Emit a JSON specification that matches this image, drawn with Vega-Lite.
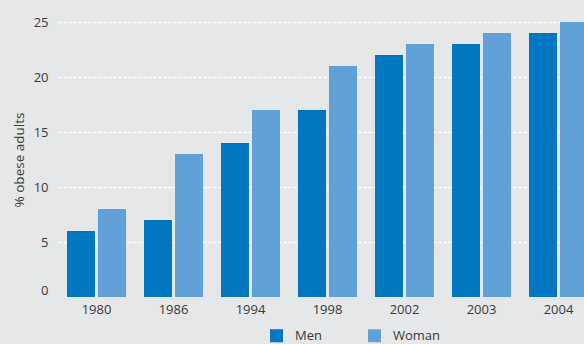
{
  "$schema": "https://vega.github.io/schema/vega-lite/v6.json",
  "autosize": {"type": "none"},
  "width": 526,
  "height": 275,
  "padding": {"left": 58, "top": 22, "right": 0, "bottom": 47},
  "background": "#e6e7e8",
  "config": {
    "view": {"stroke": null},
    "font": "Open Sans",
    "axis": {"labelFont": "Open Sans", "titleFont": "Open Sans"},
    "legend": {"labelFont": "Open Sans"}
  },
  "data": {
    "values": [
      {"year": "1980", "sex": "Men", "pct": 6},
      {"year": "1980", "sex": "Woman", "pct": 8},
      {"year": "1986", "sex": "Men", "pct": 7},
      {"year": "1986", "sex": "Woman", "pct": 13},
      {"year": "1994", "sex": "Men", "pct": 14},
      {"year": "1994", "sex": "Woman", "pct": 17},
      {"year": "1998", "sex": "Men", "pct": 17},
      {"year": "1998", "sex": "Woman", "pct": 21},
      {"year": "2002", "sex": "Men", "pct": 22},
      {"year": "2002", "sex": "Woman", "pct": 23},
      {"year": "2003", "sex": "Men", "pct": 23},
      {"year": "2003", "sex": "Woman", "pct": 24},
      {"year": "2004", "sex": "Men", "pct": 24},
      {"year": "2004", "sex": "Woman", "pct": 25}
    ]
  },
  "mark": {"type": "bar"},
  "encoding": {
    "x": {
      "field": "year",
      "type": "nominal",
      "scale": {"range": [0, 539], "paddingInner": 0.2338, "paddingOuter": 0.1169},
      "axis": {
        "title": null,
        "labelAngle": 0,
        "ticks": false,
        "domain": false,
        "labelPadding": 6,
        "labelFontSize": 13,
        "labelColor": "#3a3a3a"
      }
    },
    "xOffset": {
      "field": "sex",
      "type": "nominal",
      "scale": {"domain": ["Men", "Woman"], "paddingInner": 0.0968, "paddingOuter": 0}
    },
    "y": {
      "field": "pct",
      "type": "quantitative",
      "scale": {"domain": [0, 25], "nice": false},
      "axis": {
        "title": "% obese adults",
        "titleFontSize": 13.5,
        "titleFontWeight": "normal",
        "titleColor": "#3a3a3a",
        "titleX": -32,
        "values": [0, 5, 10, 15, 20, 25],
        "ticks": false,
        "domain": false,
        "labelPadding": 10,
        "labelFontSize": 13,
        "labelColor": "#3a3a3a",
        "labelBaseline": {"condition": {"test": "datum.value === 0", "value": "bottom"}, "value": "middle"},
        "grid": true,
        "gridColor": "#ffffff",
        "gridWidth": 1.5,
        "gridDash": [3, 2],
        "gridOpacity": {"condition": {"test": "datum.value === 0", "value": 0}, "value": 1}
      }
    },
    "color": {
      "field": "sex",
      "type": "nominal",
      "scale": {"domain": ["Men", "Woman"], "range": ["#0077c0", "#62a0d8"]},
      "legend": {
        "title": null,
        "orient": "none",
        "direction": "horizontal",
        "legendX": 212,
        "legendY": 307,
        "symbolType": "square",
        "symbolSize": 169,
        "symbolStrokeWidth": 0,
        "symbolOpacity": 1,
        "labelFontSize": 13,
        "labelColor": "#3a3a3a",
        "labelOffset": 12,
        "columnPadding": 46
      }
    }
  }
}
